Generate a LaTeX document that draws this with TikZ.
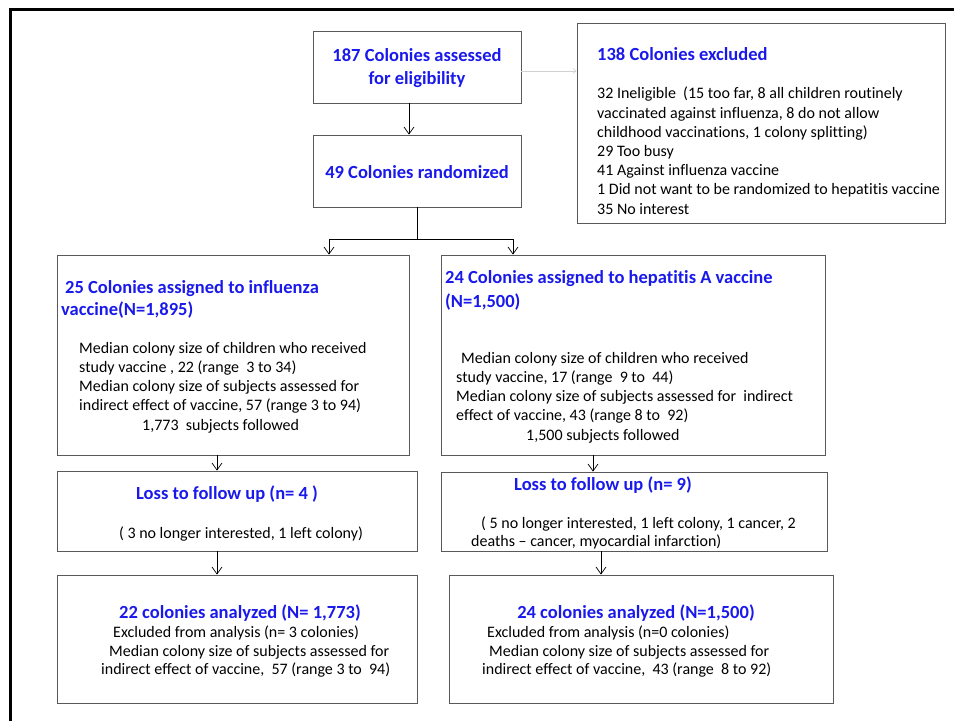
\documentclass[tikz,border=0pt]{standalone}
\usepackage{fontspec}
\setmainfont{Carlito}[Ligatures=NoCommon]
\usetikzlibrary{positioning, arrows.meta}
\definecolor{headblue}{RGB}{25,25,235}

\begin{document}
\begin{tikzpicture}[x=1pt, y=-1pt,
    box/.style={draw=gray!70!black, line width=0.9pt, inner sep=0pt},
    head/.style={text=headblue, font=\fontsize{18.5}{22}\selectfont\bfseries, inner sep=0pt, align=left},
    body/.style={font=\fontsize{16}{19.2}\selectfont, inner sep=0pt, align=left},
    arr/.style={-{Straight Barb[length=7pt,width=10pt]}, line width=0.7pt}]
  \useasboundingbox (0,0) rectangle (954,721);
  % outer frame
  \draw[line width=3pt] (954,9) -- (10.5,9) -- (10.5,721);

  % boxes
  \node[box, minimum width=208pt, minimum height=72pt] (assessed) at (417,67) {};
  \node[box, minimum width=208pt, minimum height=72pt] (randomized) at (417,171) {};
  \node[box, minimum width=368pt, minimum height=200pt] (excluded) at (761,123) {};
  \node[box, minimum width=352pt, minimum height=200pt] (influenza) at (233,355) {};
  \node[box, minimum width=384pt, minimum height=200pt] (hepatitis) at (633,355) {};
  \node[box, minimum width=360pt, minimum height=80pt] (lossflu) at (237,511) {};
  \node[box, minimum width=386pt, minimum height=79pt] (losshep) at (634,511.5) {};
  \node[box, minimum width=360pt, minimum height=128pt] (analyzedflu) at (237,639) {};
  \node[box, minimum width=384pt, minimum height=128pt] (analyzedhep) at (641,639) {};

  % texts
  \node[head, align=center, font=\fontsize{18.5}{23}\selectfont\bfseries] (assessedtxt) at (417,68) {187 Colonies assessed\\for eligibility};
  \node[head] (randomizedtxt) at (417,172) {49 Colonies randomized};
  \node[head, anchor=west] (excludedhead) at (597,54) {138 Colonies excluded};
  \node[body, anchor=north west] (excludedtxt) at (597,87) {32 Ineligible\ \ (15 too far, 8 all children routinely\\
    vaccinated against influenza, 8 do not allow\\
    childhood vaccinations, 1 colony splitting)\\
    29 Too busy\\
    41 Against influenza vaccine\\
    1 Did not want to be randomized to hepatitis vaccine\\
    35 No interest};

  \node[head, anchor=north west] (influenzahead) at (61,280) {\hspace*{4pt}25 Colonies assigned to influenza\\vaccine(N=1,895)};
  \node[body, anchor=north west] (influenzatxt) at (79,342) {Median colony size of children who received\\
    study vaccine , 22 (range\ \ 3 to 34)\\
    Median colony size of subjects assessed for\\
    indirect effect of vaccine, 57 (range 3 to 94)\\
    \hspace*{63pt}1,773\ \ subjects followed};

  \node[head, anchor=north west, font=\fontsize{18.5}{24}\selectfont\bfseries] (hepatitishead) at (445,270) {24 Colonies assigned to hepatitis A vaccine\\(N=1,500)};
  \node[body, anchor=north west] (hepatitistxt) at (456,352) {\hspace*{5pt}Median colony size of children who received\\
    study vaccine, 17 (range\ \ 9 to\ \ 44)\\
    Median colony size of subjects assessed for\ \ indirect\\
    effect of vaccine, 43 (range 8 to\ \ 92)\\
    \hspace*{70pt}1,500 subjects followed};

  \node[head] (lossfluhead) at (227,494) {Loss to follow up (n= 4 )};
  \node[body] (lossflutxt) at (241,534) {( 3 no longer interested, 1 left colony)};
  \node[head, anchor=west] (losshephead) at (514,485) {Loss to follow up (n= 9)};
  \node[body, anchor=north west, font=\fontsize{16}{18}\selectfont] (losshephtxt) at (471,517) {\hspace*{10pt}( 5 no longer interested, 1 left colony, 1 cancer, 2\\
    deaths – cancer, myocardial infarction)};

  \node[head] (analyzedfluhead) at (240,613) {22 colonies analyzed (N= 1,773)};
  \node[body, anchor=north west, font=\fontsize{16}{18.5}\selectfont] (analyzedflutxt) at (101,626) {\hspace*{12pt}Excluded from analysis (n= 3 colonies)\\
    \hspace*{8pt}Median colony size of subjects assessed for\\
    indirect effect of vaccine,\ \ 57 (range 3 to\ \ 94)};
  \node[head] (analyzedhephead) at (636,613) {24 colonies analyzed (N=1,500)};
  \node[body, anchor=north west, font=\fontsize{16}{18.5}\selectfont] (analyzedheptxt) at (482,626) {\hspace*{5pt}Excluded from analysis (n=0 colonies)\\
    \hspace*{7pt}Median colony size of subjects assessed for\\
    indirect effect of vaccine,\ \ 43 (range\ \ 8 to 92)};

  % connectors
  \draw[-{Straight Barb[length=3pt,width=5pt]}, draw=gray!35, line width=0.6pt] ([yshift=-4pt]assessed.east) -- ([yshift=-4pt]assessed.east -| excluded.west);
  \draw[arr] ([xshift=-8pt]assessed.south) -- ([xshift=-8pt]randomized.north);
  \coordinate (split) at (417,239);
  \draw[line width=0.7pt] (randomized.south) -- (split);
  \draw[arr] (split) -| ([xshift=96pt]influenza.north);
  \draw[arr] (split) -| ([xshift=-120pt]hepatitis.north);
  \draw[arr] ([xshift=-16pt]influenza.south) -- ([xshift=-16pt]influenza.south |- lossflu.north);
  \draw[arr] ([xshift=-20pt]lossflu.south) -- ([xshift=-20pt]lossflu.south |- analyzedflu.north);
  \draw[arr] ([xshift=-40pt]hepatitis.south) -- ([xshift=-40pt]hepatitis.south |- losshep.north);
  \draw[arr] ([xshift=-33pt]losshep.south) -- ([xshift=-33pt]losshep.south |- analyzedhep.north);
\end{tikzpicture}
\end{document}
